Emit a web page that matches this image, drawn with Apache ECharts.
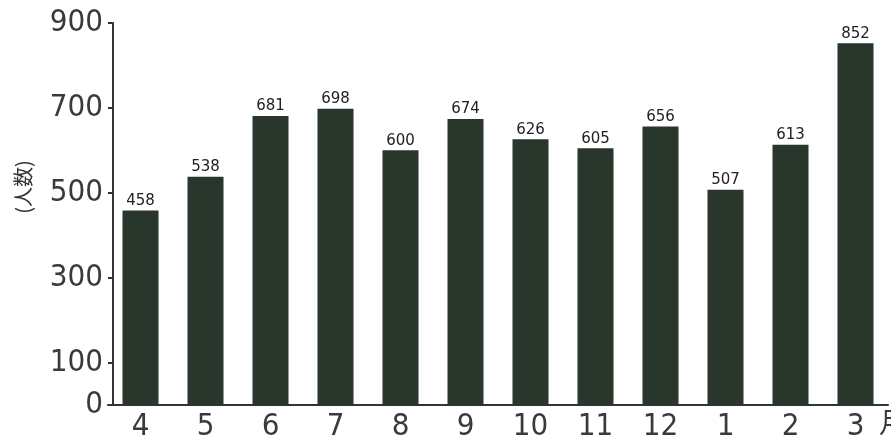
<!DOCTYPE html>
<html>
<head>
<meta charset="utf-8">
<script src="https://cdn.jsdelivr.net/npm/echarts@6/dist/echarts.min.js"></script>
<style>
  html, body { margin: 0; padding: 0; background: #fff; }
</style>
</head>
<body>
<div id="main" style="width: 891px;height:443px;"></div>
<script>
  // 月ごとの人数
  const months = ['4', '5', '6', '7', '8', '9', '10', '11', '12', '1', '2', '3'];
  const counts = [458, 538, 681, 698, 600, 674, 626, 605, 656, 507, 613, 852];
  const yTicks = [0, 100, 300, 500, 700, 900];

  const narrowFont = "'Liberation Sans Narrow', 'DejaVu Sans Condensed', 'Liberation Sans', sans-serif";

  let myChart = echarts.init(document.getElementById('main'));

  let option = {
    animation: false,
    backgroundColor: '#fff',
    grid: {
      left: 108,
      right: 3,
      top: 23,
      bottom: 38
    },
    xAxis: {
      type: 'category',
      data: months,
      boundaryGap: true,
      axisLine: { lineStyle: { color: '#333', width: 2 } },
      axisTick: { show: false },
      axisLabel: {
        interval: 0,
        margin: 6,
        color: '#3a3a3a',
        fontSize: 31,
        fontFamily: narrowFont
      }
    },
    yAxis: {
      type: 'value',
      min: 0,
      max: 900,
      offset: -5,
      splitLine: { show: false },
      axisLine: { show: true, lineStyle: { color: '#333', width: 2 } },
      axisTick: {
        show: true,
        length: 5,
        customValues: yTicks,
        lineStyle: { color: '#333', width: 2 }
      },
      axisLabel: {
        margin: 10,
        customValues: yTicks,
        color: '#3a3a3a',
        fontSize: 31,
        fontFamily: narrowFont
      }
    },
    graphic: [
      {
        type: 'text',
        x: 23,
        y: 187,
        rotation: Math.PI / 2,
        style: {
          text: '(人数)',
          align: 'center',
          verticalAlign: 'middle',
          fontSize: 20,
          fontFamily: 'Noto Sans CJK JP',
          fill: '#333'
        }
      },
      {
        type: 'text',
        left: 879,
        top: 408,
        style: {
          text: '月',
          fontSize: 28,
          fontFamily: 'Noto Sans CJK JP',
          fill: '#3a3a3a'
        }
      }
    ],
    series: [
      {
        type: 'bar',
        data: counts,
        barWidth: 36,
        itemStyle: { color: '#29362c' },
        label: {
          show: true,
          position: 'top',
          distance: 2,
          color: '#222',
          fontSize: 15,
          fontFamily: 'DejaVu Sans'
        }
      }
    ]
  };
  myChart.setOption(option);
</script>
</body>
</html>
